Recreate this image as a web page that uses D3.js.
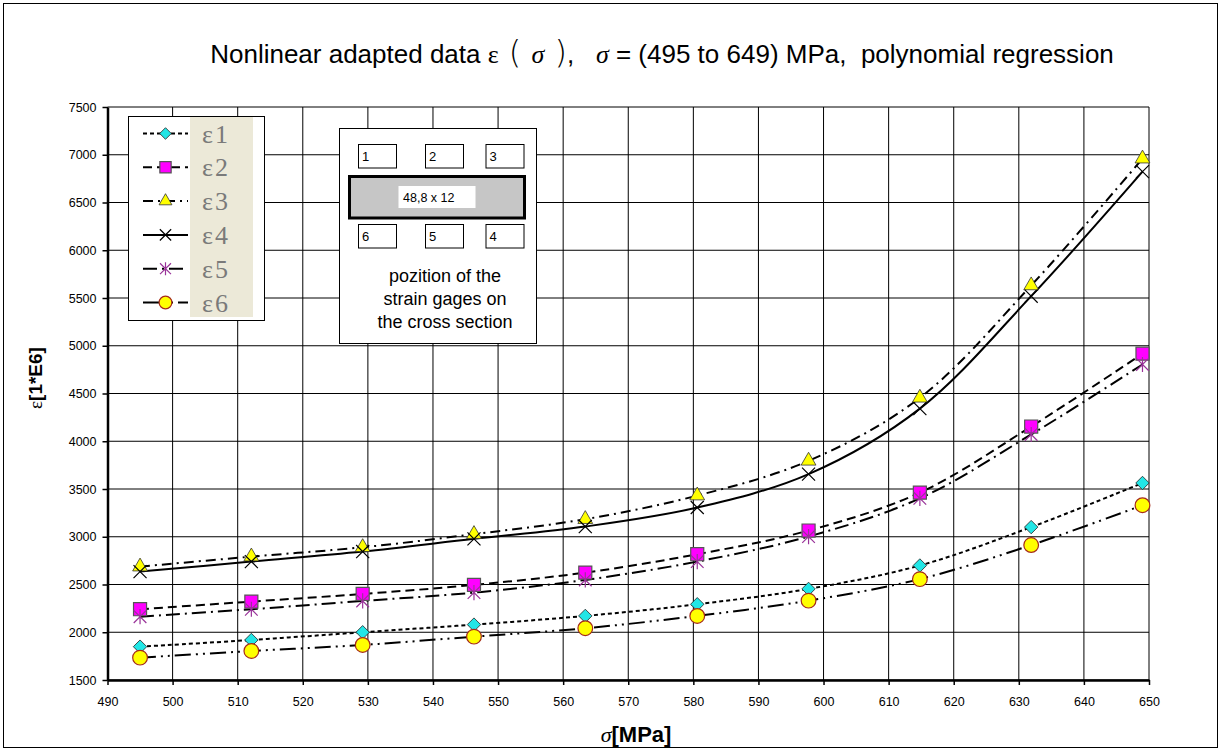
<!DOCTYPE html>
<html lang="en">
<head>
  <meta charset="UTF-8">
  <title>Nonlinear adapted data</title>
  <script src="https://d3js.org/d3.v7.min.js"></script>
  <style>
    body { margin: 0; background: white; font-family: "Liberation Sans", Arial, sans-serif; }
    svg text { font-family: "Liberation Sans", Arial, sans-serif; white-space: pre; }
  </style>
</head>
<body>
  <svg id="chart" width="1222" height="751"></svg>

  <script>
    // stress values (MPa)
    const sigma = [495, 512.1, 529.2, 546.3, 563.4, 580.6, 597.7, 614.8, 631.9, 649];

    // strains [1*E6]
    const eps1 = [1849, 1919, 2000, 2080, 2171, 2293, 2454, 2699, 3101, 3563];
    const eps2 = [2241, 2321, 2401, 2496, 2625, 2817, 3065, 3462, 4154, 4917];
    const eps3 = [2687, 2792, 2890, 3027, 3184, 3431, 3795, 4455, 5631, 6959];
    const eps4 = [2635, 2740, 2845, 2978, 3107, 3306, 3656, 4342, 5519, 6823];
    const eps5 = [2163, 2241, 2328, 2415, 2548, 2740, 3002, 3402, 4071, 4804];
    const eps6 = [1734, 1804, 1867, 1954, 2042, 2171, 2331, 2556, 2913, 3330];

    const seriesNames = ["ε1", "ε2", "ε3", "ε4", "ε5", "ε6"];
    const xTicks = d3.range(490, 651, 10);
    const yTicks = d3.range(1500, 7501, 500);

    const svg = d3.select("#chart");

    // custom symbols
    const symX = { draw(ctx, size) {
      const r = Math.sqrt(size) / 2;
      ctx.moveTo(-r, -r); ctx.lineTo(r, r);
      ctx.moveTo(-r, r); ctx.lineTo(r, -r);
    }};
    const symStar = { draw(ctx, size) {
      const r = Math.sqrt(size) / 2;
      ctx.moveTo(-r, -r); ctx.lineTo(r, r);
      ctx.moveTo(-r, r); ctx.lineTo(r, -r);
      ctx.moveTo(0, -r * 1.2); ctx.lineTo(0, r * 1.2);
    }};
    const symDiamond = { draw(ctx, size) {
      const r = Math.sqrt(size) / 2;
      ctx.moveTo(0, -r); ctx.lineTo(r, 0); ctx.lineTo(0, r); ctx.lineTo(-r, 0); ctx.closePath();
    }};

    const styles = [
      { dash: "4,3", type: symDiamond, size: 180, fill: "#22e6e6", stroke: "#222", sw: 0.8 },
      { dash: "9,5", type: d3.symbolSquare, size: 170, fill: "#ff00ff", stroke: "#555", sw: 1.2 },
      { dash: "10,5,2,5", type: d3.symbolTriangle, size: 95, fill: "#ffff00", stroke: "#333", sw: 0.8 },
      { dash: null, type: symX, size: 170, fill: "none", stroke: "#000", sw: 1.2 },
      { dash: "14,5,2,5", type: symStar, size: 160, fill: "none", stroke: "#993399", sw: 1.2 },
      { dash: "16,5,2,5,2,5", type: d3.symbolCircle, size: 170, fill: "#ffff00", stroke: "#a52a1a", sw: 1.2 }
    ];

    const allSeries = [eps1, eps2, eps3, eps4, eps5, eps6];

    // outer frame
    svg.append("rect")
      .attr("x", 3.5).attr("y", 3.5).attr("width", 1214).attr("height", 744)
      .attr("fill", "white").attr("stroke", "#000").attr("stroke-width", 1);

    const x = d3.scaleLinear().domain([490, 650]).range([107.5, 1149]);
    const y = d3.scaleLinear().domain([1500, 7500]).range([680, 107]);

    // grid
    const grid = svg.append("g");
    grid.selectAll(".vg").data(xTicks).enter().append("line")
      .attr("x1", d => x(d)).attr("x2", d => x(d))
      .attr("y1", y(7500)).attr("y2", y(1500))
      .attr("stroke", "#000").attr("stroke-width", 1);
    grid.selectAll(".hg").data(yTicks).enter().append("line")
      .attr("x1", x(490)).attr("x2", x(650))
      .attr("y1", d => y(d)).attr("y2", d => y(d))
      .attr("stroke", "#000").attr("stroke-width", 1);

    // axes
    const xAxis = svg.append("g")
      .attr("transform", "translate(0," + y(1500) + ")")
      .call(d3.axisBottom(x).tickValues(xTicks).tickSize(5).tickSizeOuter(0).tickPadding(12));
    const yAxis = svg.append("g")
      .attr("transform", "translate(" + x(490) + ",0)")
      .call(d3.axisLeft(y).tickValues(yTicks).tickFormat(d3.format("d")).tickSize(5).tickSizeOuter(0).tickPadding(6));
    [xAxis, yAxis].forEach(a => {
      a.select(".domain").attr("stroke", "#000").attr("stroke-width", 2.5);
      a.selectAll(".tick line").attr("stroke", "#000").attr("stroke-width", 1.5);
      a.selectAll("text").attr("fill", "#000").style("font-size", "12.5px");
    });

    // lines
    const line = d3.line()
      .x((d, i) => x(sigma[i]))
      .y(d => y(d))
      .curve(d3.curveCatmullRom.alpha(0.5));

    allSeries.forEach((s, k) => {
      svg.append("path")
        .datum(s)
        .attr("d", line)
        .attr("fill", "none")
        .attr("stroke", "#000")
        .attr("stroke-width", 2)
        .attr("stroke-dasharray", styles[k].dash);
    });

    // markers
    allSeries.forEach((s, k) => {
      const st = styles[k];
      svg.append("g").selectAll("path")
        .data(s)
        .enter().append("path")
        .attr("transform", (d, i) => "translate(" + x(sigma[i]) + "," + y(d) + ")")
        .attr("d", d3.symbol().type(st.type).size(st.size))
        .attr("fill", st.fill)
        .attr("stroke", st.stroke)
        .attr("stroke-width", st.sw);
    });

    // legend
    const lg = svg.append("g");
    lg.append("rect").attr("x", 128.5).attr("y", 116.5).attr("width", 136).attr("height", 204)
      .attr("fill", "white").attr("stroke", "#000").attr("stroke-width", 1);
    lg.append("rect").attr("x", 190).attr("y", 117).attr("width", 63).attr("height", 200)
      .attr("fill", "#ece9d8");
    seriesNames.forEach((name, k) => {
      const st = styles[k];
      const cy = 133.5 + k * 33.8;
      lg.append("line").attr("x1", 143).attr("x2", 188).attr("y1", cy).attr("y2", cy)
        .attr("stroke", "#000").attr("stroke-width", 2)
        .attr("stroke-dasharray", st.dash);
      lg.append("path")
        .attr("transform", "translate(165.5," + cy + ")")
        .attr("d", d3.symbol().type(st.type).size(st.size * 0.75))
        .attr("fill", st.fill).attr("stroke", st.stroke).attr("stroke-width", st.sw);
      lg.append("text").attr("x", 202).attr("y", cy + 9)
        .style("font-family", "'Liberation Serif', 'DejaVu Serif', serif")
        .style("font-size", "26px")
        .style("letter-spacing", "2px")
        .attr("fill", "#7a7a7a")
        .text(name);
    });

    // inset: position of the strain gages
    const ins = svg.append("g");
    ins.append("rect").attr("x", 339.5).attr("y", 128.5).attr("width", 197).attr("height", 215)
      .attr("fill", "white").attr("stroke", "#000").attr("stroke-width", 1);
    const gageTop = [["1", 358], ["2", 425], ["3", 485.5]];
    const gageBot = [["6", 358], ["5", 425], ["4", 485.5]];
    [[gageTop, 144.5], [gageBot, 224.5]].forEach(([row, gy]) => {
      row.forEach(([lab, gx]) => {
        ins.append("rect").attr("x", gx + 0.5).attr("y", gy).attr("width", 38).attr("height", 23.5)
          .attr("fill", "white").attr("stroke", "#000").attr("stroke-width", 1);
        ins.append("text").attr("x", gx + 4).attr("y", gy + 16).style("font-size", "13px").text(lab);
      });
    });
    ins.append("rect").attr("x", 349.5).attr("y", 176.5).attr("width", 175).attr("height", 41.5)
      .attr("fill", "#c6c6c6").attr("stroke", "#000").attr("stroke-width", 3);
    ins.append("rect").attr("x", 398.5).attr("y", 186).attr("width", 77).attr("height", 22)
      .attr("fill", "white");
    ins.append("text").attr("x", 403).attr("y", 202).style("font-size", "12.5px").text("48,8 x 12");
    ["pozition of the", "strain gages on", "the cross section"].forEach((t, i) => {
      ins.append("text").attr("x", 445).attr("y", 282 + i * 23)
        .attr("text-anchor", "middle").style("font-size", "18px").text(t);
    });

    // title
    const title = svg.append("text").attr("x", 662).attr("y", 63)
      .attr("text-anchor", "middle").style("font-size", "26px");
    title.append("tspan").text("Nonlinear adapted data ");
    title.append("tspan").style("font-family", "'Liberation Serif', serif").text("ε");
    title.append("tspan").style("font-size", "32px").style("font-family", "'DejaVu Sans', sans-serif").style("font-weight", "200").text(" ( ");
    title.append("tspan").style("font-family", "'Liberation Serif', serif").style("font-style", "italic").text("σ");
    title.append("tspan").style("font-size", "32px").style("font-family", "'DejaVu Sans', sans-serif").style("font-weight", "200").text(" )");
    title.append("tspan").text(",   ");
    title.append("tspan").style("font-family", "'Liberation Serif', serif").style("font-style", "italic").text("σ");
    title.append("tspan").text(" = (495 to 649) MPa,  polynomial regression");

    // axis titles
    const yl = svg.append("text")
      .attr("transform", "translate(42,378) rotate(-90)")
      .attr("text-anchor", "middle")
      .style("font-size", "19px").style("font-weight", "bold");
    yl.append("tspan").style("font-family", "'Liberation Serif', serif").style("font-weight", "normal").text("ε");
    yl.append("tspan").text("[1*E6]");

    const xl = svg.append("text")
      .attr("x", 636).attr("y", 742)
      .attr("text-anchor", "middle")
      .style("font-size", "22px").style("font-weight", "bold");
    xl.append("tspan").style("font-family", "'Liberation Serif', serif").style("font-style", "italic").style("font-weight", "normal").text("σ");
    xl.append("tspan").text("[MPa]");
  </script>
</body>
</html>
